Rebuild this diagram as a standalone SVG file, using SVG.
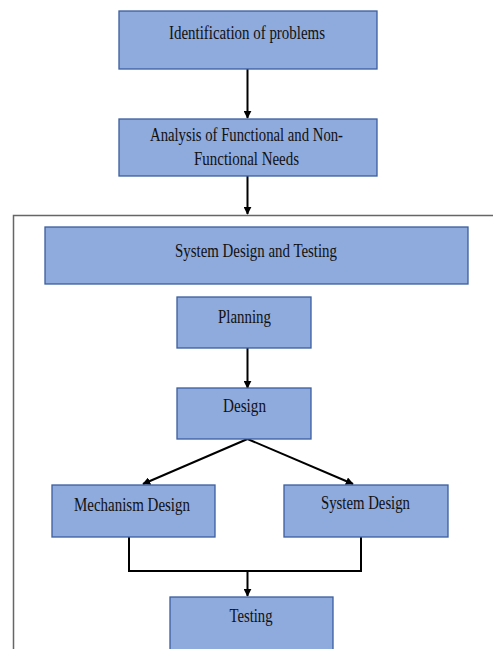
<svg xmlns="http://www.w3.org/2000/svg" width="493" height="649" viewBox="0 0 493 649">
<style>
.box{fill:#8FAADC;stroke:#3A5F9E;stroke-width:1.3}
.t{font-family:"Liberation Serif","Times New Roman",serif;font-size:18px;fill:#111;text-anchor:middle}
.c{fill:none;stroke:#000;stroke-width:2}
</style>
<defs>
<marker id="ah" viewBox="0 0 10 10" refX="9" refY="5" markerWidth="4" markerHeight="4" orient="auto" markerUnits="strokeWidth">
<path d="M0,0 L10,5 L0,10 z" fill="#000"/>
</marker>
</defs>
<rect width="493" height="649" fill="#fff"/>
<g id="frame">
<path d="M13.5,649 V215.5 H493" fill="none" stroke="#666" stroke-width="1.5"/>
</g>
<g id="connectors">
<path class="c" d="M247.5,69 V118" marker-end="url(#ah)"/>
<path class="c" d="M247.5,176 V214" marker-end="url(#ah)"/>
<path class="c" d="M247.5,348 V388" marker-end="url(#ah)"/>
<path class="c" d="M247.5,439 L143,484" marker-end="url(#ah)"/>
<path class="c" d="M247.5,439 L353,484" marker-end="url(#ah)"/>
<path class="c" d="M129,537 V571 H361 V537"/>
<path class="c" d="M247.5,571 V596" marker-end="url(#ah)"/>
</g>
<g id="n1">
<rect class="box" x="119" y="11" width="258" height="58"/>
<text class="t" x="247" y="39" textLength="156" lengthAdjust="spacingAndGlyphs">Identification of problems</text>
</g>
<g id="n2">
<rect class="box" x="119" y="119" width="258" height="57"/>
<text class="t" x="246.5" y="141" textLength="193" lengthAdjust="spacingAndGlyphs">Analysis of Functional and Non-</text>
<text class="t" x="246.5" y="165" textLength="105" lengthAdjust="spacingAndGlyphs">Functional Needs</text>
</g>
<g id="n3">
<rect class="box" x="45" y="227" width="423" height="57"/>
<text class="t" x="256" y="257" textLength="162" lengthAdjust="spacingAndGlyphs">System Design and Testing</text>
</g>
<g id="n4">
<rect class="box" x="177" y="297" width="134" height="51"/>
<text class="t" x="244.5" y="323" textLength="53" lengthAdjust="spacingAndGlyphs">Planning</text>
</g>
<g id="n5">
<rect class="box" x="177" y="388" width="134" height="51"/>
<text class="t" x="244.5" y="412" textLength="43" lengthAdjust="spacingAndGlyphs">Design</text>
</g>
<g id="n6">
<rect class="box" x="52" y="485" width="163" height="52"/>
<text class="t" x="132" y="511" textLength="116" lengthAdjust="spacingAndGlyphs">Mechanism Design</text>
</g>
<g id="n7">
<rect class="box" x="284" y="485" width="164" height="52"/>
<text class="t" x="365.5" y="509" textLength="89" lengthAdjust="spacingAndGlyphs">System Design</text>
</g>
<g id="n8">
<rect class="box" x="170" y="597" width="163" height="60"/>
<text class="t" x="251" y="622" textLength="43" lengthAdjust="spacingAndGlyphs">Testing</text>
</g>
</svg>
